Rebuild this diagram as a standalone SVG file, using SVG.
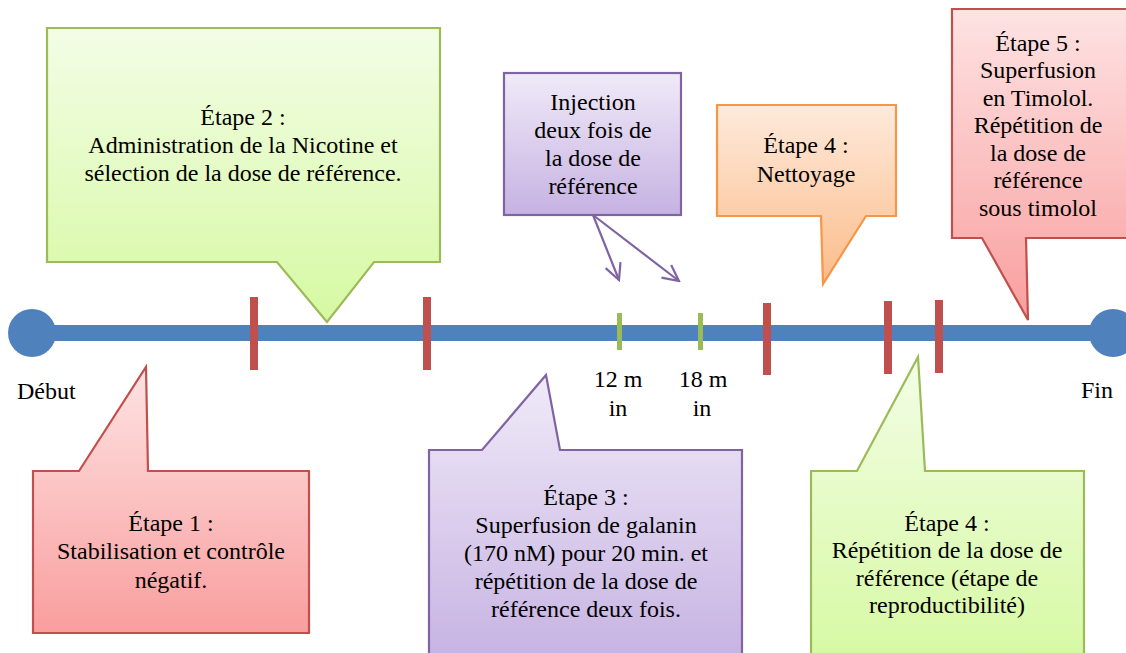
<svg xmlns="http://www.w3.org/2000/svg" width="1126" height="653" viewBox="0 0 1126 653">
<defs>
<linearGradient id="gGreen" x1="0" y1="0" x2="0" y2="1"><stop offset="0" stop-color="#f3fde6"/><stop offset="1" stop-color="#d6f9a2"/></linearGradient>
<linearGradient id="gPurple" x1="0" y1="0" x2="0" y2="1"><stop offset="0" stop-color="#f0eaf8"/><stop offset="1" stop-color="#c6b2e2"/></linearGradient>
<linearGradient id="gOrange" x1="0" y1="0" x2="0" y2="1"><stop offset="0" stop-color="#feeadb"/><stop offset="1" stop-color="#fbbc8a"/></linearGradient>
<linearGradient id="gRed" x1="0" y1="0" x2="0" y2="1"><stop offset="0" stop-color="#fee3e3"/><stop offset="1" stop-color="#f99e9e"/></linearGradient>
<marker id="openArrow" viewBox="0 0 20 20" refX="18" refY="10" markerWidth="20" markerHeight="20" markerUnits="userSpaceOnUse" orient="auto">
<path d="M2,2 L18,10 L2,18" fill="none" stroke="#8064a2" stroke-width="2.2"/>
</marker>
</defs>
<style>
.t{font-family:'Liberation Serif','Times New Roman','DejaVu Serif',serif;font-size:24px;fill:#000;}
.c{text-anchor:middle;}
.green{fill:url(#gGreen);stroke:#9bbb59;stroke-width:2.2;}
.purple{fill:url(#gPurple);stroke:#8064a2;stroke-width:2.2;}
.orange{fill:url(#gOrange);stroke:#f79646;stroke-width:2.2;}
.red{fill:url(#gRed);stroke:#c0504d;stroke-width:2.2;}
.tickR{fill:#c0504d;}
.tickG{fill:#9bbb59;}
.conn{fill:none;stroke:#8064a2;stroke-width:2.2;}
</style>
<rect width="1126" height="653" fill="#ffffff"/>
<g class="t" font-family="Liberation Serif, Times New Roman, serif" font-size="24">

<g id="timeline">
<rect x="32" y="325" width="1081" height="16" fill="#4f81bd"/>
<circle cx="32" cy="333" r="24" fill="#4f81bd"/>
<circle cx="1113" cy="333" r="24" fill="#4f81bd"/>
<rect class="tickR" x="250" y="297" width="8" height="73"/>
<rect class="tickR" x="423" y="297" width="8" height="73"/>
<rect class="tickR" x="763" y="303" width="8" height="72"/>
<rect class="tickR" x="884" y="301" width="8" height="73"/>
<rect class="tickR" x="935" y="300" width="8" height="73"/>
<rect class="tickG" x="617" y="313" width="5" height="37"/>
<rect class="tickG" x="698" y="313" width="5" height="37"/>
<text x="17" y="399">Début</text>
<text x="1081" y="398">Fin</text>
<text class="c" x="618" y="387">12 m</text>
<text class="c" x="618" y="416">in</text>
<text class="c" x="703" y="387">18 m</text>
<text class="c" x="702" y="416">in</text>
</g>

<g id="connectors">
<line class="conn" x1="593" y1="215" x2="619" y2="280" marker-end="url(#openArrow)"/>
<line class="conn" x1="593" y1="215" x2="679" y2="281" marker-end="url(#openArrow)"/>
</g>

<g id="etape2">
<path class="green" d="M47,28 H440 V262 H374 L327,322 L277,262 H47 Z"/>
<text class="c" x="243" y="125">Étape 2 :</text>
<text class="c" x="243" y="153">Administration de la Nicotine et</text>
<text class="c" x="243" y="181">sélection de la dose de référence.</text>
</g>

<g id="injection">
<rect class="purple" x="504" y="73" width="177" height="142"/>
<text class="c" x="593" y="110">Injection</text>
<text class="c" x="593" y="138">deux fois de</text>
<text class="c" x="593" y="166">la dose de</text>
<text class="c" x="593" y="194">référence</text>
</g>

<g id="etape4-nettoyage">
<path class="orange" d="M717,105 H896 V216 H866 L823,284 L821,216 H717 Z"/>
<text class="c" x="806" y="153">Étape 4 :</text>
<text class="c" x="806" y="182">Nettoyage</text>
</g>

<g id="etape5">
<path class="red" d="M952,9 H1135 V238 H1026 L1028,320 L982,238 H952 Z"/>
<text class="c" x="1038" y="51">Étape 5 :</text>
<text class="c" x="1038" y="78">Superfusion</text>
<text class="c" x="1038" y="106">en Timolol.</text>
<text class="c" x="1038" y="133">Répétition de</text>
<text class="c" x="1038" y="161">la dose de</text>
<text class="c" x="1038" y="188">référence</text>
<text class="c" x="1038" y="216">sous timolol</text>
</g>

<g id="etape1">
<path class="red" d="M33,471 H79 L146,367 L148,471 H309 V633 H33 Z"/>
<text class="c" x="171" y="531">Étape 1 :</text>
<text class="c" x="171" y="559">Stabilisation et contrôle</text>
<text class="c" x="171" y="588">négatif.</text>
</g>

<g id="etape3">
<path class="purple" d="M429,450 H482 L546,375 L560,450 H742 V665 H429 Z"/>
<text class="c" x="586" y="505">Étape 3 :</text>
<text class="c" x="586" y="533">Superfusion de galanin</text>
<text class="c" x="586" y="561">(170 nM) pour 20 min. et</text>
<text class="c" x="586" y="589">répétition de la dose de</text>
<text class="c" x="586" y="617">référence deux fois.</text>
</g>

<g id="etape4-repetition">
<path class="green" d="M811,471 H857 L918,357 L925,471 H1084 V665 H811 Z"/>
<text class="c" x="947" y="531">Étape 4 :</text>
<text class="c" x="947" y="558">Répétition de la dose de</text>
<text class="c" x="947" y="586">référence (étape de</text>
<text class="c" x="947" y="613">reproductibilité)</text>
</g>
</g>
</svg>
